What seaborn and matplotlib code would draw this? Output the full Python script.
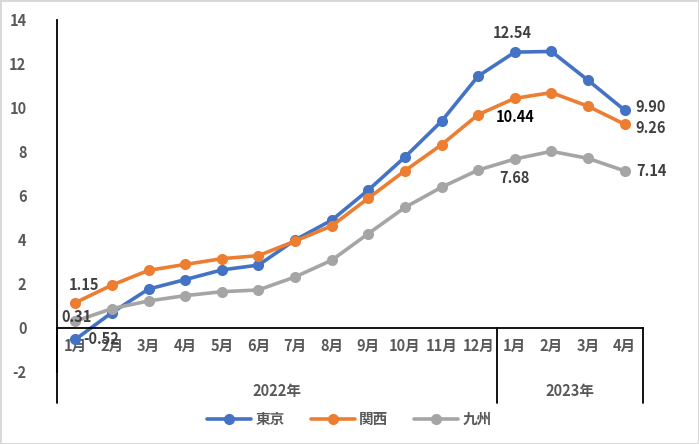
import pandas as pd
import matplotlib.pyplot as plt
import seaborn as sns

months = ["1月", "2月", "3月", "4月", "5月", "6月", "7月", "8月", "9月", "10月", "11月", "12月",
          "1月", "2月", "3月", "4月"]
years = ["2022年", "2023年"]
tokyo = [-0.52, 0.70, 1.77, 2.20, 2.64, 2.86, 4.00, 4.90, 6.27, 7.77, 9.40, 11.45, 12.54, 12.57, 11.26, 9.90]
kansai = [1.15, 1.95, 2.62, 2.89, 3.15, 3.29, 3.95, 4.64, 5.90, 7.15, 8.33, 9.70, 10.44, 10.70, 10.08, 9.26]
kyushu = [0.31, 0.88, 1.23, 1.47, 1.65, 1.73, 2.32, 3.08, 4.29, 5.48, 6.40, 7.18, 7.68, 8.03, 7.71, 7.14]
regions = ["東京", "関西", "九州"]
colors = ["#4472C4", "#ED7D31", "#A5A5A5"]

df = pd.DataFrame({
    "pos": list(range(len(months))) * 3,
    "value": tokyo + kansai + kyushu,
    "region": [r for r in regions for _ in months],
})

sns.set_style("white")
plt.rcParams["font.family"] = ["Noto Sans CJK JP", "DejaVu Sans"]
plt.rcParams["axes.unicode_minus"] = False

fig = plt.figure(figsize=(6.99, 4.44), dpi=100, edgecolor="#D9D9D9", linewidth=2)
ax = fig.add_axes([57 / 699, (444 - 372) / 444, 586 / 699, 352 / 444])

sns.lineplot(data=df, x="pos", y="value", hue="region", hue_order=regions, palette=colors,
             marker="o", markersize=8, markeredgewidth=0, linewidth=2.6, sort=False, ax=ax)

ax.set_xlim(-0.5, 15.5)
ax.set_ylim(-2, 14)
ax.set_yticks(range(-2, 15, 2))
ax.set_xticks(range(len(months)))
ax.set_xticklabels(months)
ax.set_xlabel("")
ax.set_ylabel("")
for s in ["top", "right"]:
    ax.spines[s].set_visible(False)
ax.spines["bottom"].set_position(("data", 0))
ax.spines["bottom"].set_color("black")
ax.spines["bottom"].set_linewidth(1.3)
ax.spines["left"].set_color("black")
ax.spines["left"].set_linewidth(1.3)
ax.tick_params(axis="both", length=0, labelsize=10.5, labelcolor="#595959")
ax.tick_params(axis="x", pad=7)
ax.tick_params(axis="y", pad=22)
for t in ax.get_xticklabels() + ax.get_yticklabels():
    t.set_fontweight("bold")

# multi-level category dividers
for x in [-0.5, 11.5, 15.5]:
    ax.plot([x, x], [0, -3.4], color="black", lw=1.3, clip_on=False)
ax.text(5.5, -2.85, years[0], ha="center", va="center", fontsize=10.5, color="#595959", fontweight="bold")
ax.text(13.5, -2.85, years[1], ha="center", va="center", fontsize=10.5, color="#595959", fontweight="bold")

# data labels
lab = dict(fontsize=10.5, fontweight="bold", color="#404040")
ax.annotate(f"{tokyo[12]:.2f}", (12, tokyo[12]), xytext=(-2, 8), textcoords="offset points", ha="center", va="bottom", **lab)
ax.annotate(f"{kansai[12]:.2f}", (12, kansai[12]), xytext=(0, -8), textcoords="offset points", ha="center", va="top", fontsize=10.5, fontweight="bold", color="black")
ax.annotate(f"{kyushu[12]:.2f}", (12, kyushu[12]), xytext=(0, -8), textcoords="offset points", ha="center", va="top", **lab)
ax.annotate(f"{tokyo[15]:.2f}", (15, tokyo[15]), xytext=(8, 2), textcoords="offset points", ha="left", va="center", **lab)
ax.annotate(f"{kansai[15]:.2f}", (15, kansai[15]), xytext=(8, -3), textcoords="offset points", ha="left", va="center", **lab)
ax.annotate(f"{kyushu[15]:.2f}", (15, kyushu[15]), xytext=(8, 0), textcoords="offset points", ha="left", va="center", **lab)
ax.annotate(f"{kansai[0]:.2f}", (0, kansai[0]), xytext=(6, 7), textcoords="offset points", ha="center", va="bottom", **lab)
ax.annotate(f"{kyushu[0]:.2f}", (0, kyushu[0]), xytext=(1, 3), textcoords="offset points", ha="center", va="center", **lab)
ax.annotate(f"{tokyo[0]:.2f}", (0, tokyo[0]), xytext=(6, 0), textcoords="offset points", ha="left", va="center", **lab)

handles, labels = ax.get_legend_handles_labels()
ax.get_legend().remove()
leg = fig.legend(handles, labels, loc="center", bbox_to_anchor=(0.5, 25 / 444), ncol=3, frameon=False,
                 handlelength=3.0, columnspacing=1.8, handletextpad=0.3,
                 prop={"family": ["Noto Sans CJK JP"], "weight": "bold", "size": 10.5})
for t in leg.get_texts():
    t.set_color("#595959")

fig.savefig("out.png", dpi=100)
